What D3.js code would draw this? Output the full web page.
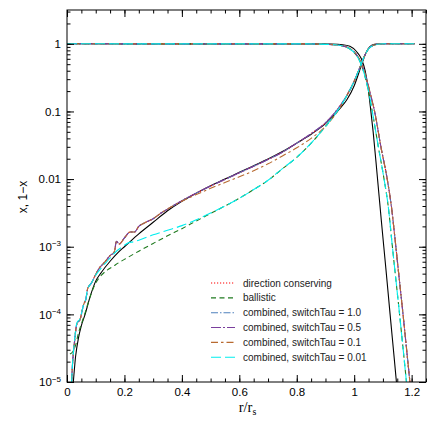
<!DOCTYPE html>
<html><head><meta charset="utf-8">
<script src="https://cdn.jsdelivr.net/npm/d3@7"></script>
<style>body{margin:0;background:#fff}text{font-family:"Liberation Sans",Arial,Helvetica,sans-serif}</style>
</head><body>
<svg id="c" width="436" height="436"></svg>
<script>
// ---------- data (r/r_s, value) ----------
const conservingX = [[0.014,6e-6],[0.018,1.5e-5],[0.025,3.5e-5],[0.035,7.4e-5],[0.045,8.3e-5],[0.058,1.4e-4],[0.066,1.7e-4],[0.072,2.4e-4],[0.085,2.9e-4],[0.1,3.9e-4],[0.112,4.8e-4],[0.13,5.8e-4],[0.15,7.4e-4],[0.165,8.4e-4],[0.172,1.2e-3],[0.182,1.1e-3],[0.2,1.35e-3],[0.22,1.65e-3],[0.235,1.65e-3],[0.25,2.0e-3],[0.27,2.25e-3],[0.3,2.6e-3],[0.33,3.2e-3],[0.35,3.6e-3],[0.4,4.8e-3],[0.45,6.2e-3],[0.5,7.9e-3],[0.55,9.9e-3],[0.6,0.0124],[0.65,0.0155],[0.7,0.0195],[0.75,0.025],[0.8,0.034],[0.85,0.047],[0.9,0.068],[0.95,0.12],[0.98,0.19],[1.0,0.28],[1.02,0.45],[1.035,0.65],[1.05,0.85],[1.065,0.95],[1.08,0.99],[1.1,1],[1.21,1]];
const conserving1mX = [[0,1],[0.8,0.998],[0.88,0.99],[0.93,0.97],[0.96,0.93],[0.985,0.85],[1.005,0.72],[1.026,0.5],[1.045,0.28],[1.058,0.17],[1.071,0.1],[1.093,0.03],[1.115,0.01],[1.13,3.8e-3],[1.144,1.1e-3],[1.157,3.3e-4],[1.169,1.1e-4],[1.181,3.5e-5],[1.193,1.1e-5],[1.205,3.5e-6]];

const ballisticX = [[0.01,2.6e-5],[0.02,2.8e-5],[0.03,3.5e-5],[0.04,5.3e-5],[0.05,7.2e-5],[0.063,1.05e-4],[0.08,1.8e-4],[0.1,2.9e-4],[0.12,3.8e-4],[0.14,4.5e-4],[0.16,5.1e-4],[0.18,5.8e-4],[0.2,6.5e-4],[0.25,8.6e-4],[0.3,1.12e-3],[0.35,1.45e-3],[0.4,1.85e-3],[0.45,2.4e-3],[0.5,3.1e-3],[0.55,4.0e-3],[0.6,5.2e-3],[0.65,7.0e-3],[0.7,9.6e-3],[0.75,0.0142],[0.8,0.021],[0.85,0.034],[0.9,0.06],[0.95,0.115],[0.98,0.19],[1.0,0.28],[1.02,0.45],[1.035,0.65],[1.05,0.84],[1.065,0.94],[1.08,0.985],[1.1,1],[1.21,1]];
const ballistic1mX = [[0,1],[0.8,0.998],[0.88,0.99],[0.93,0.97],[0.96,0.93],[0.985,0.84],[1.005,0.7],[1.024,0.5],[1.04,0.3],[1.052,0.18],[1.063,0.1],[1.084,0.03],[1.104,0.01],[1.119,3.8e-3],[1.132,1.1e-3],[1.145,3.3e-4],[1.157,1.1e-4],[1.169,3.5e-5],[1.181,1.1e-5],[1.193,3.5e-6]];

const switch10X = [[0.014,6e-6],[0.018,1.5e-5],[0.025,3.5e-5],[0.035,7.4e-5],[0.045,8.3e-5],[0.058,1.4e-4],[0.066,1.7e-4],[0.072,2.4e-4],[0.085,2.9e-4],[0.1,3.9e-4],[0.112,4.8e-4],[0.13,5.8e-4],[0.15,7.4e-4],[0.165,8.4e-4],[0.172,1.2e-3],[0.182,1.1e-3],[0.2,1.35e-3],[0.22,1.65e-3],[0.235,1.65e-3],[0.25,2.0e-3],[0.27,2.25e-3],[0.3,2.6e-3],[0.33,3.2e-3],[0.35,3.6e-3],[0.4,4.8e-3],[0.45,6.2e-3],[0.5,7.9e-3],[0.55,9.9e-3],[0.6,0.0124],[0.65,0.0155],[0.7,0.0195],[0.75,0.025],[0.8,0.034],[0.85,0.047],[0.9,0.068],[0.95,0.12],[0.98,0.19],[1.0,0.28],[1.02,0.45],[1.035,0.65],[1.05,0.85],[1.065,0.95],[1.08,0.99],[1.1,1],[1.21,1]];
const switch10_1mX = [[0,1],[0.8,0.998],[0.88,0.99],[0.93,0.97],[0.96,0.93],[0.985,0.85],[1.005,0.72],[1.026,0.5],[1.045,0.28],[1.058,0.17],[1.071,0.1],[1.093,0.03],[1.115,0.01],[1.13,3.8e-3],[1.144,1.1e-3],[1.157,3.3e-4],[1.169,1.1e-4],[1.181,3.5e-5],[1.193,1.1e-5],[1.205,3.5e-6]];

const switch05X = [[0.014,6e-6],[0.018,1.5e-5],[0.025,3.5e-5],[0.035,7.4e-5],[0.045,8.3e-5],[0.058,1.4e-4],[0.066,1.7e-4],[0.072,2.4e-4],[0.085,2.9e-4],[0.1,3.9e-4],[0.112,4.8e-4],[0.13,5.8e-4],[0.15,7.4e-4],[0.165,8.4e-4],[0.172,1.2e-3],[0.182,1.1e-3],[0.2,1.35e-3],[0.22,1.65e-3],[0.235,1.65e-3],[0.25,2.0e-3],[0.27,2.25e-3],[0.3,2.6e-3],[0.33,3.2e-3],[0.35,3.6e-3],[0.4,4.8e-3],[0.45,6.2e-3],[0.5,7.9e-3],[0.55,9.9e-3],[0.6,0.0124],[0.65,0.0155],[0.7,0.0195],[0.75,0.025],[0.8,0.034],[0.85,0.047],[0.9,0.068],[0.95,0.12],[0.98,0.19],[1.0,0.28],[1.02,0.45],[1.035,0.65],[1.05,0.85],[1.065,0.95],[1.08,0.99],[1.1,1],[1.21,1]];
const switch05_1mX = [[0,1],[0.8,0.998],[0.88,0.99],[0.93,0.97],[0.96,0.93],[0.985,0.85],[1.005,0.72],[1.026,0.5],[1.045,0.28],[1.058,0.17],[1.071,0.1],[1.093,0.03],[1.115,0.01],[1.13,3.8e-3],[1.144,1.1e-3],[1.157,3.3e-4],[1.169,1.1e-4],[1.181,3.5e-5],[1.193,1.1e-5],[1.205,3.5e-6]];

const switch01X = [[0.014,6e-6],[0.018,1.5e-5],[0.025,3.5e-5],[0.035,7.4e-5],[0.045,8.3e-5],[0.058,1.4e-4],[0.066,1.7e-4],[0.072,2.4e-4],[0.085,2.9e-4],[0.1,3.9e-4],[0.112,4.8e-4],[0.13,5.8e-4],[0.15,7.4e-4],[0.165,8.4e-4],[0.172,1.2e-3],[0.182,1.1e-3],[0.2,1.35e-3],[0.22,1.65e-3],[0.235,1.65e-3],[0.25,2.0e-3],[0.27,2.25e-3],[0.3,2.6e-3],[0.33,3.2e-3],[0.35,3.6e-3],[0.4,4.7e-3],[0.45,5.9e-3],[0.5,7.3e-3],[0.55,8.9e-3],[0.6,0.0108],[0.65,0.0133],[0.7,0.0168],[0.75,0.022],[0.8,0.029],[0.85,0.04],[0.9,0.06],[0.95,0.113],[0.98,0.19],[1.0,0.28],[1.02,0.45],[1.035,0.65],[1.05,0.85],[1.065,0.95],[1.08,0.99],[1.1,1],[1.21,1]];
const switch01_1mX = [[0,1],[0.8,0.998],[0.88,0.99],[0.93,0.97],[0.96,0.93],[0.985,0.85],[1.005,0.72],[1.026,0.5],[1.045,0.28],[1.058,0.17],[1.071,0.1],[1.093,0.03],[1.115,0.01],[1.13,3.8e-3],[1.144,1.1e-3],[1.157,3.3e-4],[1.169,1.1e-4],[1.181,3.5e-5],[1.193,1.1e-5],[1.205,3.5e-6]];

const switch001X = [[0.014,6e-6],[0.018,1.5e-5],[0.025,3.6e-5],[0.035,7.6e-5],[0.045,8.5e-5],[0.058,1.4e-4],[0.066,1.7e-4],[0.072,2.4e-4],[0.085,2.9e-4],[0.1,3.8e-4],[0.12,4.9e-4],[0.14,6.1e-4],[0.16,7.6e-4],[0.175,8.8e-4],[0.19,9.8e-4],[0.2,1.05e-3],[0.215,1.15e-3],[0.23,1.18e-3],[0.25,1.25e-3],[0.3,1.5e-3],[0.35,1.75e-3],[0.4,2.05e-3],[0.45,2.5e-3],[0.5,3.15e-3],[0.55,4.0e-3],[0.6,5.2e-3],[0.65,7.0e-3],[0.7,9.6e-3],[0.75,0.0143],[0.8,0.021],[0.85,0.034],[0.9,0.06],[0.95,0.115],[0.98,0.19],[1.0,0.28],[1.02,0.45],[1.035,0.65],[1.05,0.84],[1.065,0.94],[1.08,0.985],[1.1,1],[1.21,1]];
const switch001_1mX = [[0,1],[0.8,0.998],[0.88,0.99],[0.93,0.97],[0.96,0.93],[0.985,0.84],[1.005,0.7],[1.024,0.5],[1.04,0.3],[1.052,0.18],[1.063,0.1],[1.084,0.03],[1.104,0.01],[1.119,3.8e-3],[1.132,1.1e-3],[1.145,3.3e-4],[1.157,1.1e-4],[1.169,3.5e-5],[1.181,1.1e-5],[1.193,3.5e-6]];

const analyticX = [[0.016,5e-6],[0.022,1e-5],[0.03,2.4e-5],[0.04,4.5e-5],[0.05,6.8e-5],[0.063,1e-4],[0.08,1.8e-4],[0.1,3.1e-4],[0.12,4.2e-4],[0.15,6.1e-4],[0.18,8.4e-4],[0.2,1.0e-3],[0.25,1.55e-3],[0.3,2.3e-3],[0.35,3.4e-3],[0.4,4.7e-3],[0.45,6.2e-3],[0.5,8e-3],[0.55,0.01],[0.6,0.0126],[0.65,0.0158],[0.7,0.0198],[0.75,0.0255],[0.8,0.034],[0.85,0.046],[0.9,0.066],[0.95,0.11],[0.975,0.15],[1.0,0.24],[1.025,0.48],[1.04,0.72],[1.054,0.9],[1.07,0.98],[1.09,1],[1.21,1]];
const analytic1mX = [[0,1],[0.85,0.998],[0.92,0.99],[0.96,0.97],[0.985,0.92],[1.008,0.77],[1.025,0.6],[1.038,0.4],[1.048,0.23],[1.056,0.12],[1.066,0.05],[1.08,0.0115],[1.095,2.3e-3],[1.11,4.9e-4],[1.125,1e-4],[1.14,2.1e-5],[1.155,4.3e-6]];

const seriesNames = ["direction conserving","ballistic","combined, switchTau = 1.0","combined, switchTau = 0.5","combined, switchTau = 0.1","combined, switchTau = 0.01"];
const seriesX = [conservingX, ballisticX, switch10X, switch05X, switch01X, switch001X];
const series1mX = [conserving1mX, ballistic1mX, switch10_1mX, switch05_1mX, switch01_1mX, switch001_1mX];
const seriesColors = ["#ff0000","#1f7a1f","#4f81bd","#7a3f9d","#b86a30","#00eeee"];
const seriesDash = ["1.2,1.8","5,3.5","7,2,1.5,2","10,2,2,2","7,3,2.5,3","10,4"];

const xMajor = [0,0.2,0.4,0.6,0.8,1,1.2];
const xMajorLabels = ["0","0.2","0.4","0.6","0.8","1","1.2"];
const yMajor = [1e-5,1e-4,1e-3,0.01,0.1,1];
const yMajorLabels = [["10","\u22125"],["10","\u22124"],["10","\u22123"],["0.01",""],["0.1",""],["1",""]];

// ---------- layout ----------
const svg = d3.select("#c");
const L = 67, R = 426, T = 10, B = 382;
const x = d3.scaleLinear().domain([0,1.25]).range([L,R]);
const y = d3.scaleLog().domain([1e-5, Math.pow(10,0.5)]).range([B,T]);

svg.append("defs").append("clipPath").attr("id","clip")
  .append("rect").attr("x",L).attr("y",T).attr("width",R-L).attr("height",B-T);

const line = d3.line().x(d=>x(d[0])).y(d=>y(d[1])).curve(d3.curveMonotoneX);
const gL = svg.append("g").attr("clip-path","url(#clip)");

function drawSeries(data, color, dash){
  gL.append("path").datum(data).attr("d",line).attr("fill","none")
    .attr("stroke",color).attr("stroke-width",1.1).attr("stroke-dasharray",dash);
}
drawSeries(analyticX,"#000",null);
drawSeries(analytic1mX,"#000",null);
for(let i=0;i<seriesX.length;i++){
  drawSeries(seriesX[i], seriesColors[i], seriesDash[i]);
  drawSeries(series1mX[i], seriesColors[i], seriesDash[i]);
}

// ---------- axes ----------
const xMinor = x.ticks(25);
const yMinor = y.ticks();
function styleAxis(g){ g.select(".domain").remove(); g.selectAll("line").attr("stroke","#000"); }

svg.append("g").attr("transform",`translate(0,${B})`)
  .call(d3.axisBottom(x).tickValues(xMinor).tickSize(-3.5).tickFormat("")).call(styleAxis);
svg.append("g").attr("transform",`translate(0,${T})`)
  .call(d3.axisTop(x).tickValues(xMinor).tickSize(-3.5).tickFormat("")).call(styleAxis);
svg.append("g").attr("transform",`translate(0,${T})`)
  .call(d3.axisTop(x).tickValues(xMajor).tickSize(-7).tickFormat("")).call(styleAxis);
const gxb = svg.append("g").attr("transform",`translate(0,${B})`)
  .call(d3.axisBottom(x).tickValues(xMajor).tickSize(-7).tickPadding(6)
  .tickFormat((d,i)=>xMajorLabels[i])).call(styleAxis);
gxb.selectAll("text").attr("font-size","11.5px").attr("fill","#000")
  .style("font-family","'Liberation Sans',Arial,sans-serif");

svg.append("g").attr("transform",`translate(${L},0)`)
  .call(d3.axisLeft(y).tickValues(yMinor).tickSize(-3.5).tickFormat("")).call(styleAxis);
svg.append("g").attr("transform",`translate(${R},0)`)
  .call(d3.axisRight(y).tickValues(yMinor).tickSize(-3.5).tickFormat("")).call(styleAxis);
svg.append("g").attr("transform",`translate(${R},0)`)
  .call(d3.axisRight(y).tickValues(yMajor).tickSize(-7).tickFormat("")).call(styleAxis);
const gyl = svg.append("g").attr("transform",`translate(${L},0)`)
  .call(d3.axisLeft(y).tickValues(yMajor).tickSize(-7).tickPadding(6).tickFormat("")).call(styleAxis);
gyl.selectAll(".tick text").each(function(d,i){
  const t = d3.select(this).attr("font-size","11.5px").attr("fill","#000")
    .style("font-family","'Liberation Sans',Arial,sans-serif");
  const lab = yMajorLabels[i];
  t.text(null);
  t.append("tspan").text(lab[0]);
  if(lab[1]) t.append("tspan").attr("font-size","8px").attr("dy","-4.5").text(lab[1]);
});

// frame
svg.append("rect").attr("x",L).attr("y",T).attr("width",R-L).attr("height",B-T)
  .attr("fill","none").attr("stroke","#000").attr("stroke-width",1);

// axis titles
const xt = svg.append("text").attr("x",(L+R)/2+1).attr("y",412).attr("text-anchor","middle")
  .style("font-family","'Liberation Serif','Times New Roman',serif").attr("font-size","14.5px");
xt.append("tspan").text("r/r");
xt.append("tspan").attr("font-size","10px").attr("dy","3").text("s");
svg.append("text").attr("transform","translate(27,197) rotate(-90)").attr("text-anchor","middle")
  .attr("font-size","12px").text("x, 1\u2212x");

// legend
const lg = svg.append("g");
const legY0 = 283, legDY = 14.85;
seriesNames.forEach((n,i)=>{
  const yy = legY0 + i*legDY;
  lg.append("line").attr("x1",211).attr("x2",235).attr("y1",yy).attr("y2",yy)
    .attr("stroke",seriesColors[i]).attr("stroke-width",1.1).attr("stroke-dasharray",seriesDash[i]);
  lg.append("text").attr("x",243).attr("y",yy+3.6).attr("font-size","10px").attr("fill","#222").text(n);
});
</script>
</body></html>
